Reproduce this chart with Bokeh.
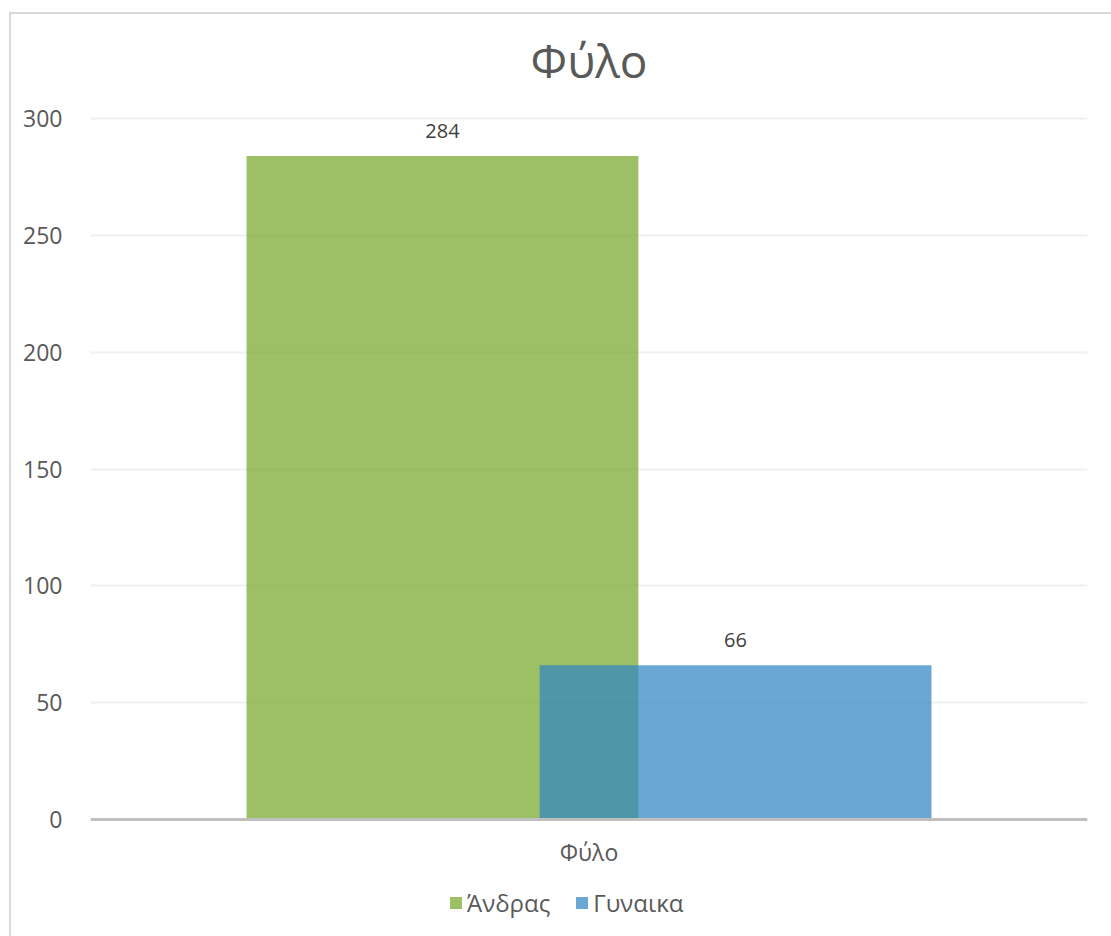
from bokeh.plotting import figure
from bokeh.models import ColumnDataSource, FactorRange, FixedTicker, Legend, LegendItem, LabelSet, Range1d
from bokeh.core.properties import value
from bokeh.transform import dodge
from bokeh.embed import file_html
from bokeh.resources import INLINE

title_text = "Φύλο"
category = ["Φύλο"]
series = ["Άνδρας", "Γυναικα"]
values = [284, 66]
colors = ["#77a72d", "#3085c3"]
offsets = [-0.147, 0.147]
y_ticks = [0, 50, 100, 150, 200, 250, 300]

FONT = "Open Sans"
PX_PER_UNIT = 701 / 300.0
Y_END = 300 + 104 / PX_PER_UNIT
Y_START = -117 / PX_PER_UNIT
TITLE_Y = 300 + 59 / PX_PER_UNIT

p = figure(x_range=FactorRange(*category), y_range=Range1d(Y_START, Y_END),
           frame_width=997, frame_height=922, output_backend="svg", toolbar_location=None,
           min_border_left=79, min_border_right=24, min_border_top=0, min_border_bottom=0)
p.styles = {"margin-left": "9px", "margin-top": "12px",
            "border-left": "2px solid #d9d9d9", "border-top": "2px solid #d9d9d9"}
p.outline_line_color = None

p.yaxis.ticker = FixedTicker(ticks=y_ticks)
p.yaxis.axis_line_color = None
p.yaxis.major_tick_line_color = None
p.yaxis.minor_tick_line_color = None
p.yaxis.major_label_text_font = FONT
p.yaxis.major_label_text_font_size = "23px"
p.yaxis.major_label_text_color = "#595959"
p.yaxis.major_label_standoff = 22

p.xaxis.fixed_location = 0
p.xaxis.axis_line_color = "#bfbfbf"
p.xaxis.axis_line_width = 3
p.xaxis.major_tick_line_color = None
p.xaxis.minor_tick_line_color = None
p.xaxis.major_label_text_font = FONT
p.xaxis.major_label_text_font_size = "23px"
p.xaxis.major_label_text_color = "#595959"
p.xaxis.major_label_standoff = 10

p.xgrid.grid_line_color = None
p.ygrid.grid_line_color = "#f0f0f0"
p.ygrid.grid_line_width = 2

items = []
for name, val, col, off in zip(series, values, colors, offsets):
    src = ColumnDataSource(dict(x=category, top=[val], label=[str(val)]))
    r = p.vbar(x=dodge("x", off, range=p.x_range), top="top", width=0.393, source=src,
               fill_color=col, fill_alpha=0.72, line_color=None)
    items.append(LegendItem(label=name, renderers=[r]))
    lbl = LabelSet(x=dodge("x", off, range=p.x_range), y="top", text="label", source=src,
                   text_align="center", text_baseline="middle", y_offset=25,
                   text_font=value(FONT), text_font_size=value("20px"), text_color=value("#404040"))
    p.add_layout(lbl)

title_src = ColumnDataSource(dict(x=category, y=[TITLE_Y], t=[title_text]))
title_lbl = LabelSet(x="x", y="y", text="t", source=title_src,
                     text_align="center", text_baseline="middle",
                     text_font=value(FONT), text_font_size=value("46px"), text_color=value("#595959"))
p.add_layout(title_lbl)

legend = Legend(items=items, orientation="horizontal", location=(358, 17),
                label_text_font=FONT, label_text_font_size="24px", label_text_color="#595959",
                glyph_width=15, glyph_height=15, label_standoff=4,
                border_line_color=None, spacing=24,
                background_fill_alpha=0, margin=0, padding=0)
p.add_layout(legend, "center")

open("out.html", "w").write(file_html(p, INLINE))
